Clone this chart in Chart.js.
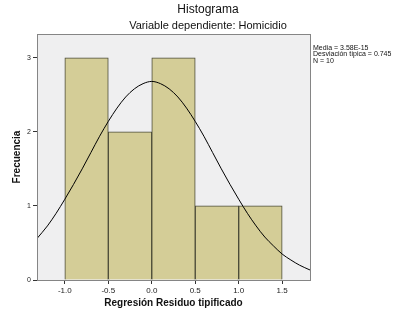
<!DOCTYPE html>
<html><head><meta charset="utf-8">
<script src="https://cdn.jsdelivr.net/npm/chart.js@4/dist/chart.umd.min.js"></script>
<style>html,body{margin:0;padding:0;background:#fff}#wrap{width:403px;height:319px;position:relative}</style>
</head><body><div id="wrap"><canvas id="c" width="403" height="319"></canvas></div>
<script>
const binCenters = [-0.75, -0.25, 0.25, 0.75, 1.25];
const frequencies = [3, 2, 3, 1, 1];
const curveX = [-1.32, -1.2, -1.1, -1.0, -0.9, -0.8, -0.7, -0.6, -0.5, -0.4, -0.3, -0.2, -0.1, 0.0, 0.1, 0.2, 0.3, 0.4, 0.5, 0.6, 0.7, 0.8, 0.9, 1.0, 1.1, 1.2, 1.3, 1.4, 1.5, 1.6, 1.7, 1.82];
const curveY = [0.56, 0.73, 0.90, 1.09, 1.29, 1.50, 1.72, 1.94, 2.14, 2.32, 2.47, 2.58, 2.65, 2.68, 2.65, 2.58, 2.47, 2.32, 2.14, 1.94, 1.72, 1.50, 1.29, 1.09, 0.90, 0.73, 0.58, 0.46, 0.35, 0.27, 0.20, 0.135];
const xTicks = [-1.0, -0.5, 0.0, 0.5, 1.0, 1.5];
const yTicks = [0, 1, 2, 3];
const titleText = 'Histograma';
const subtitleText = 'Variable dependiente: Homicidio';
const xTitle = 'Regresión Residuo tipificado';
const yTitle = 'Frecuencia';
const statLines = ['Media = 3.58E-15', 'Desviación típica = 0.745', 'N = 10'];

const FONT = '"Liberation Sans", Arial, sans-serif';

const framePlugin = {
  id: 'frame',
  beforeDatasetsDraw(chart) {
    const {ctx, chartArea: a} = chart;
    ctx.save();
    ctx.fillStyle = '#efeff0';
    ctx.fillRect(a.left, a.top, a.right - a.left, a.bottom - a.top);
    ctx.restore();
  },
  afterDatasetsDraw(chart) {
    const {ctx, chartArea: a} = chart;
    ctx.save();
    ctx.strokeStyle = '#858585';
    ctx.lineWidth = 1;
    ctx.strokeRect(Math.round(a.left) + 0.5, Math.round(a.top) + 0.5, Math.round(a.right - a.left), Math.round(a.bottom - a.top));
    ctx.restore();
  },
  afterDraw(chart) {
    const {ctx, chartArea: a} = chart;
    ctx.save();
    ctx.fillStyle = '#111';
    ctx.textAlign = 'center';
    ctx.textBaseline = 'middle';
    ctx.font = '12px ' + FONT;
    ctx.fillText(titleText, 208, 10);
    ctx.font = '11px ' + FONT;
    ctx.fillText(subtitleText, 208, 26);
    ctx.textAlign = 'left';
    ctx.font = '7px ' + FONT;
    statLines.forEach((t, i) => ctx.fillText(t, a.right + 3, 48 + i * 6.3));
    ctx.restore();
  }
};

new Chart(document.getElementById('c'), {
  data: {
    datasets: [
      {
        type: 'line',
        data: curveX.map((x, i) => ({x: x, y: curveY[i]})),
        borderColor: '#000',
        borderWidth: 1,
        pointRadius: 0,
        cubicInterpolationMode: 'monotone',
        fill: false,
        order: 1
      },
      {
        type: 'bar',
        data: binCenters.map((x, i) => ({x: x, y: frequencies[i]})),
        backgroundColor: '#d4cd97',
        borderColor: '#4a4a38',
        borderWidth: 1,
        borderSkipped: 'start',
        barPercentage: 1,
        categoryPercentage: 1,
        order: 2
      }
    ]
  },
  options: {
    responsive: false,
    animation: false,
    devicePixelRatio: 1,
    layout: {padding: {left: 0, right: 93, top: 34, bottom: 0}},
    plugins: {legend: {display: false}, tooltip: {enabled: false}},
    scales: {
      x: {
        type: 'linear',
        offset: false,
        min: -1.32,
        max: 1.82,
        afterBuildTicks: s => { s.ticks = xTicks.map(v => ({value: v})); },
        afterFit: s => { s.height = 39; },
        ticks: {callback: v => v.toFixed(1), font: {family: FONT, size: 8}, color: '#222', padding: 2, maxRotation: 0, autoSkip: false},
        grid: {offset: false, drawOnChartArea: false, drawTicks: true, tickLength: 4, color: '#333'},
        border: {display: false},
        title: {display: true, text: xTitle, font: {family: FONT, size: 10, weight: 'bold'}, color: '#111', padding: {top: 4, bottom: 10}}
      },
      y: {
        type: 'linear',
        min: 0,
        max: 3.32,
        afterBuildTicks: s => { s.ticks = yTicks.map(v => ({value: v})); },
        afterFit: s => { s.width = 37; },
        ticks: {font: {family: FONT, size: 7}, color: '#222', padding: 2},
        grid: {drawOnChartArea: false, drawTicks: true, tickLength: 4, color: '#333'},
        border: {display: false},
        title: {display: true, text: yTitle, font: {family: FONT, size: 10, weight: 'bold'}, color: '#111', padding: {top: 11, bottom: 0}}
      }
    }
  },
  plugins: [framePlugin]
});
</script></body></html>
